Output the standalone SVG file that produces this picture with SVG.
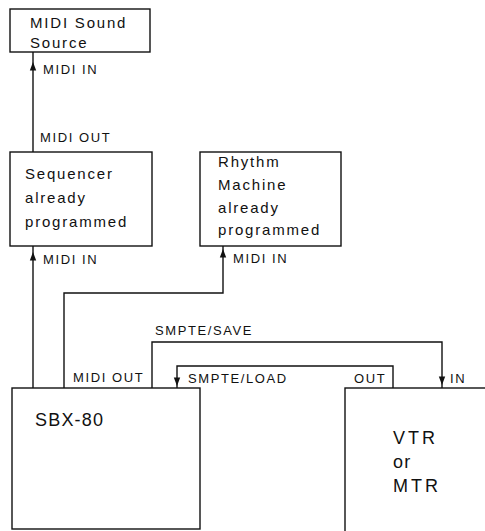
<svg xmlns="http://www.w3.org/2000/svg" xmlns:xlink="http://www.w3.org/1999/xlink" width="485" height="531" viewBox="0 0 485 531">
<style>
.box{fill:#fff;stroke:#111;stroke-width:1.4}
.wire{fill:none;stroke:#111;stroke-width:1.4}
.t{font-family:"Liberation Sans",Arial,sans-serif;fill:#111}
.big{font-size:15px;letter-spacing:1.8px}
.lbl{font-size:13px;letter-spacing:1.6px}
.huge{font-size:18px;letter-spacing:1.2px}
.ah{fill:#111}
</style>
<defs>
<path id="ah" d="M0,0 L-3.2,8.5 L3.2,8.5 Z"/>
</defs>
<rect width="485" height="531" fill="#fff"/>
<g id="connectors">
<path class="wire" d="M33,152 V52"/>
<use href="#ah" class="ah" transform="translate(33,62)"/>
<path class="wire" d="M33,388 V246"/>
<use href="#ah" class="ah" transform="translate(33,252)"/>
<path class="wire" d="M64,388 V293 H223 V246"/>
<use href="#ah" class="ah" transform="translate(223,249)"/>
<path class="wire" d="M152,388 V342 H442 V388"/>
<use href="#ah" class="ah" transform="translate(442,385) rotate(180)"/>
<path class="wire" d="M393,388 V366 H177 V388"/>
<use href="#ah" class="ah" transform="translate(177,386) rotate(180)"/>
<text class="t lbl" x="43" y="74">MIDI IN</text>
<text class="t lbl" x="40" y="142">MIDI OUT</text>
<text class="t lbl" x="43" y="264">MIDI IN</text>
<text class="t lbl" x="233" y="263">MIDI IN</text>
<text class="t lbl" x="155" y="335">SMPTE/SAVE</text>
<text class="t lbl" x="73" y="382">MIDI OUT</text>
<text class="t lbl" x="188" y="383">SMPTE/LOAD</text>
<text class="t lbl" x="354" y="383">OUT</text>
<text class="t lbl" x="450" y="383">IN</text>
</g>
<g id="midi-sound-source">
<rect class="box" x="10" y="9" width="140" height="43"/>
<text class="t big" x="30" y="28">MIDI Sound</text>
<text class="t big" x="30" y="48">Source</text>
</g>
<g id="sequencer">
<rect class="box" x="10" y="152" width="142" height="94"/>
<text class="t big" x="25" y="179">Sequencer</text>
<text class="t big" x="25" y="203">already</text>
<text class="t big" x="25" y="227">programmed</text>
</g>
<g id="rhythm-machine">
<rect class="box" x="200" y="152" width="141" height="94"/>
<text class="t big" x="218" y="167">Rhythm</text>
<text class="t big" x="218" y="190">Machine</text>
<text class="t big" x="218" y="213">already</text>
<text class="t big" x="218" y="235">programmed</text>
</g>
<g id="sbx-80">
<rect class="box" x="12" y="388" width="188" height="141"/>
<text class="t huge" x="35" y="426">SBX-80</text>
</g>
<g id="vtr-mtr">
<rect class="box" x="345" y="388" width="150" height="150"/>
<text class="t huge" x="393" y="444" style="letter-spacing:3px">VTR</text>
<text class="t huge" x="393" y="468">or</text>
<text class="t huge" x="393" y="492" style="letter-spacing:3px">MTR</text>
</g>
</svg>
